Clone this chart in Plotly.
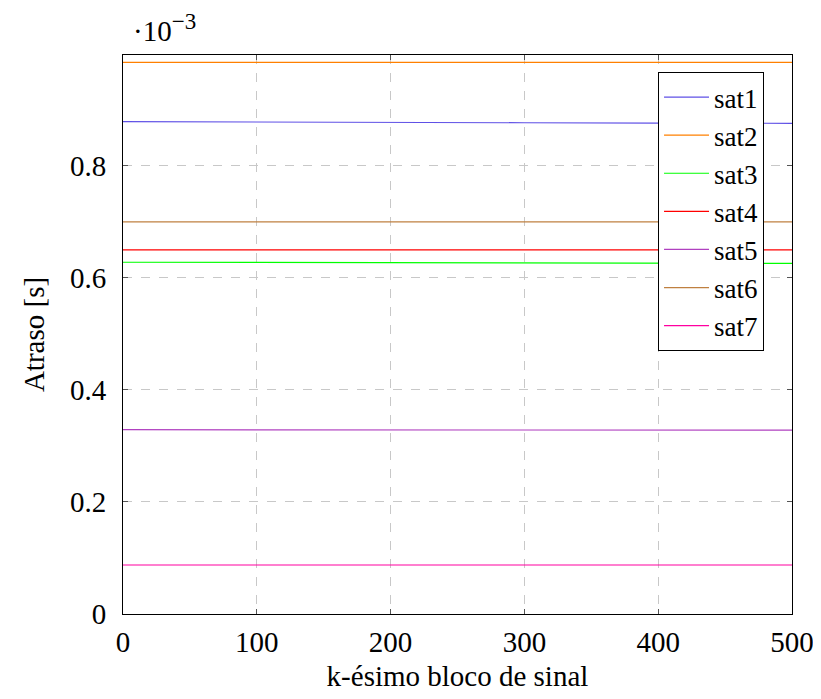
import plotly.graph_objects as go

# k-th signal block
k = [0, 100, 200, 300, 400, 500]

# delays in units of 1e-3 s
sat1 = [0.879, 0.878, 0.8775, 0.877, 0.8765, 0.876]
sat2 = [0.985, 0.985, 0.985, 0.985, 0.985, 0.985]
sat3 = [0.628, 0.6275, 0.627, 0.6265, 0.626, 0.626]
sat4 = [0.650, 0.650, 0.650, 0.650, 0.650, 0.650]
sat5 = [0.329, 0.329, 0.3288, 0.3286, 0.3284, 0.3282]
sat6 = [0.700, 0.700, 0.700, 0.700, 0.700, 0.700]
sat7 = [0.0875, 0.0875, 0.0875, 0.0875, 0.0875, 0.0875]

names = ["sat1", "sat2", "sat3", "sat4", "sat5", "sat6", "sat7"]
series = [sat1, sat2, sat3, sat4, sat5, sat6, sat7]
colors = ["#5f50e6", "#ff8000", "#00ff00", "#ff0000", "#b040c0", "#bf8040", "#ff00a0"]

x_ticks = [0, 100, 200, 300, 400, 500]
y_ticks = [0, 0.2, 0.4, 0.6, 0.8]
y_tick_text = ["0", "0.2", "0.4", "0.6", "0.8"]

FONT = "Liberation Serif"
FS = 29

fig = go.Figure()
for n, s, c in zip(names, series, colors):
    fig.add_trace(go.Scatter(x=k, y=s, mode="lines", name=n,
                             line=dict(color=c, width=1.2)))

fig.update_layout(
    width=813, height=691,
    margin=dict(l=115, r=29, t=47, b=85, autoexpand=False),
    plot_bgcolor="white", paper_bgcolor="white",
    font=dict(family=FONT, size=FS, color="black"),
    showlegend=True,
    legend=dict(x=0.9582, y=0.9696, xanchor="right", yanchor="top",
                bgcolor="white", bordercolor="black", borderwidth=1,
                font=dict(family=FONT, size=27), itemwidth=45),
)
fig.update_xaxes(
    range=[0, 500], tickvals=x_ticks, ticks="inside", ticklen=5, tickcolor="#555",
    showline=True, linecolor="black", linewidth=1, mirror="ticks", automargin=False,
    showgrid=True, gridcolor="#c8c8c8", griddash="dash", gridwidth=1,
    zeroline=False, tickfont=dict(size=FS), ticklabelstandoff=2,
    title=dict(text="k-ésimo bloco de sinal", font=dict(size=FS), standoff=8),
)
fig.update_yaxes(
    range=[0, 0.998], tickvals=y_ticks, ticktext=y_tick_text, ticks="inside", ticklen=5,
    tickcolor="#555", automargin=False,
    showline=True, linecolor="black", linewidth=1, mirror="ticks",
    showgrid=True, gridcolor="#c8c8c8", griddash="dash", gridwidth=1,
    zeroline=False, tickfont=dict(size=FS), ticklabelstandoff=10,
    title=dict(text="Atraso [s]", font=dict(size=FS), standoff=16),
)
fig.add_annotation(xref="paper", yref="paper", x=0.0, y=1.0, xanchor="left", yanchor="bottom",
                   xshift=8, yshift=6, showarrow=False,
                   text="·10<sup><span style='font-size:23px'>−3</span></sup>",
                   font=dict(family=FONT, size=FS))

fig.write_html("out.html")
